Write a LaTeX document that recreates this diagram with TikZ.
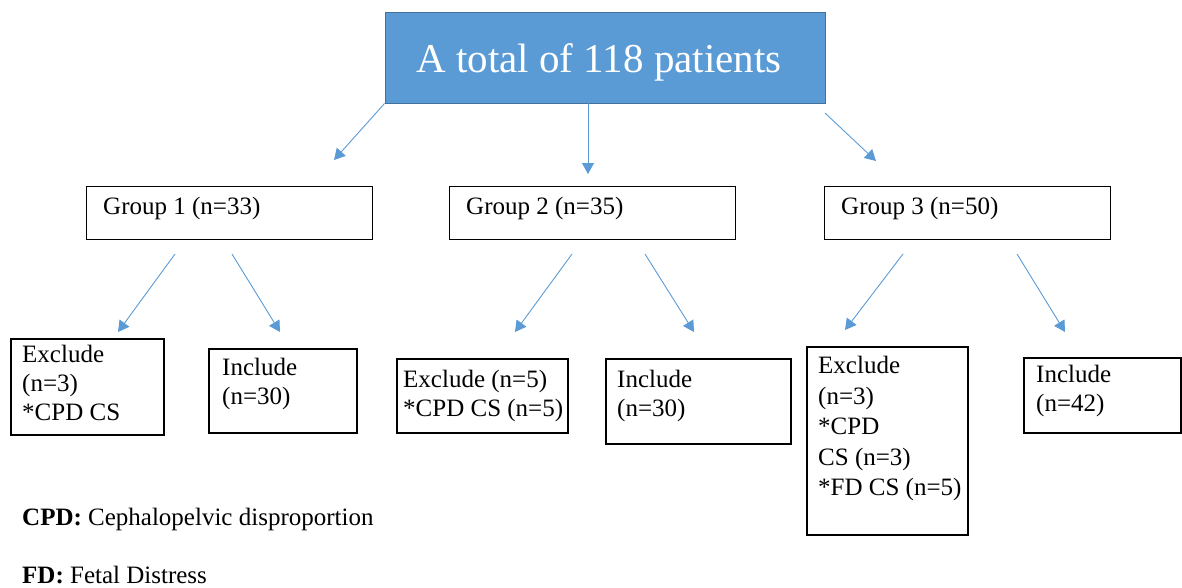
\documentclass[tikz,border=0pt]{standalone}
\usepackage{fontspec}
\setmainfont{Liberation Serif}
\usetikzlibrary{arrows.meta}
\definecolor{topblue}{HTML}{5B9BD5}
\definecolor{topedge}{HTML}{41719C}
\tikzset{
  gbox/.style={draw,line width=1.3,anchor=north west,inner sep=0},
  bbox/.style={draw,line width=2.2,anchor=north west,inner sep=0},
  txt/.style={anchor=north west,inner sep=0,align=left,font=\fontsize{25}{29}\selectfont},
  arr/.style={draw=topblue,line width=0.9,-{Triangle[length=11pt,width=12pt]}}
}
\begin{document}
\begin{tikzpicture}[x=1pt,y=-1pt]
\useasboundingbox (0,0) rectangle (1182,587);
\node (top) at (605,57.5) [fill=topblue,draw=topedge,line width=1,minimum width=440,minimum height=91] {};
\node (toptxt) at (599,72) [anchor=base,inner sep=0,text=white,font=\fontsize{41}{45}\selectfont] {A total of 118 patients};
\node (g1) at (86,186) [gbox,minimum width=286,minimum height=53] {};
\node (g2) at (449,186) [gbox,minimum width=286,minimum height=53] {};
\node (g3) at (824,186) [gbox,minimum width=286,minimum height=53] {};
\node (g1t) at (103,197) [txt] {Group 1 (n=33)};
\node (g2t) at (466,197) [txt] {Group 2 (n=35)};
\node (g3t) at (841,197) [txt] {Group 3 (n=50)};
\node (g1ex) at (10,338) [bbox,minimum width=153,minimum height=96] {};
\node (g1in) at (208,348) [bbox,minimum width=148,minimum height=84] {};
\node (g2ex) at (396,358) [bbox,minimum width=171,minimum height=74] {};
\node (g2in) at (605,358) [bbox,minimum width=185,minimum height=85] {};
\node (g3ex) at (806,346) [bbox,minimum width=161,minimum height=188] {};
\node (g3in) at (1023,357) [bbox,minimum width=157,minimum height=75] {};
\node (g1ext) at (22,345) [txt] {Exclude\\(n=3)\\*CPD CS};
\node (g1int) at (222,358) [txt] {Include\\(n=30)};
\node (g2ext) at (403,370) [txt] {Exclude (n=5)\\*CPD CS (n=5)};
\node (g2int) at (617,370) [txt] {Include\\(n=30)};
\node (g3ext) at (818,356) [txt,font=\fontsize{25}{30.5}\selectfont] {Exclude\\(n=3)\\*CPD\\CS (n=3)\\*FD CS (n=5)};
\node (g3int) at (1036,365) [txt] {Include\\(n=42)};
\node (cpd) at (22,525) [anchor=base west,inner sep=0,font=\fontsize{25}{29}\selectfont] {\textbf{CPD:} Cephalopelvic disproportion};
\node (fd) at (22,583) [anchor=base west,inner sep=0,font=\fontsize{25}{29}\selectfont] {\textbf{FD:} Fetal Distress};
\coordinate (a1) at (334,160);
\coordinate (a2s) at (588,103);
\coordinate (a2) at (588,174);
\coordinate (a3s) at (825,113);
\coordinate (a3) at (876,161);
\coordinate (b1s) at (175,254);
\coordinate (b1) at (118,332);
\coordinate (b2s) at (232,254);
\coordinate (b2) at (280,332);
\coordinate (b3s) at (572,254);
\coordinate (b3) at (515,332);
\coordinate (b4s) at (645,254);
\coordinate (b4) at (694,332);
\coordinate (b5s) at (903,254);
\coordinate (b5) at (845,330);
\coordinate (b6s) at (1017,254);
\coordinate (b6) at (1065,332);
\draw[arr] (top.south west) -- (a1);
\draw[arr] (a2s) -- (a2);
\draw[arr] (a3s) -- (a3);
\draw[arr] (b1s) -- (b1);
\draw[arr] (b2s) -- (b2);
\draw[arr] (b3s) -- (b3);
\draw[arr] (b4s) -- (b4);
\draw[arr] (b5s) -- (b5);
\draw[arr] (b6s) -- (b6);
\end{tikzpicture}
\end{document}
